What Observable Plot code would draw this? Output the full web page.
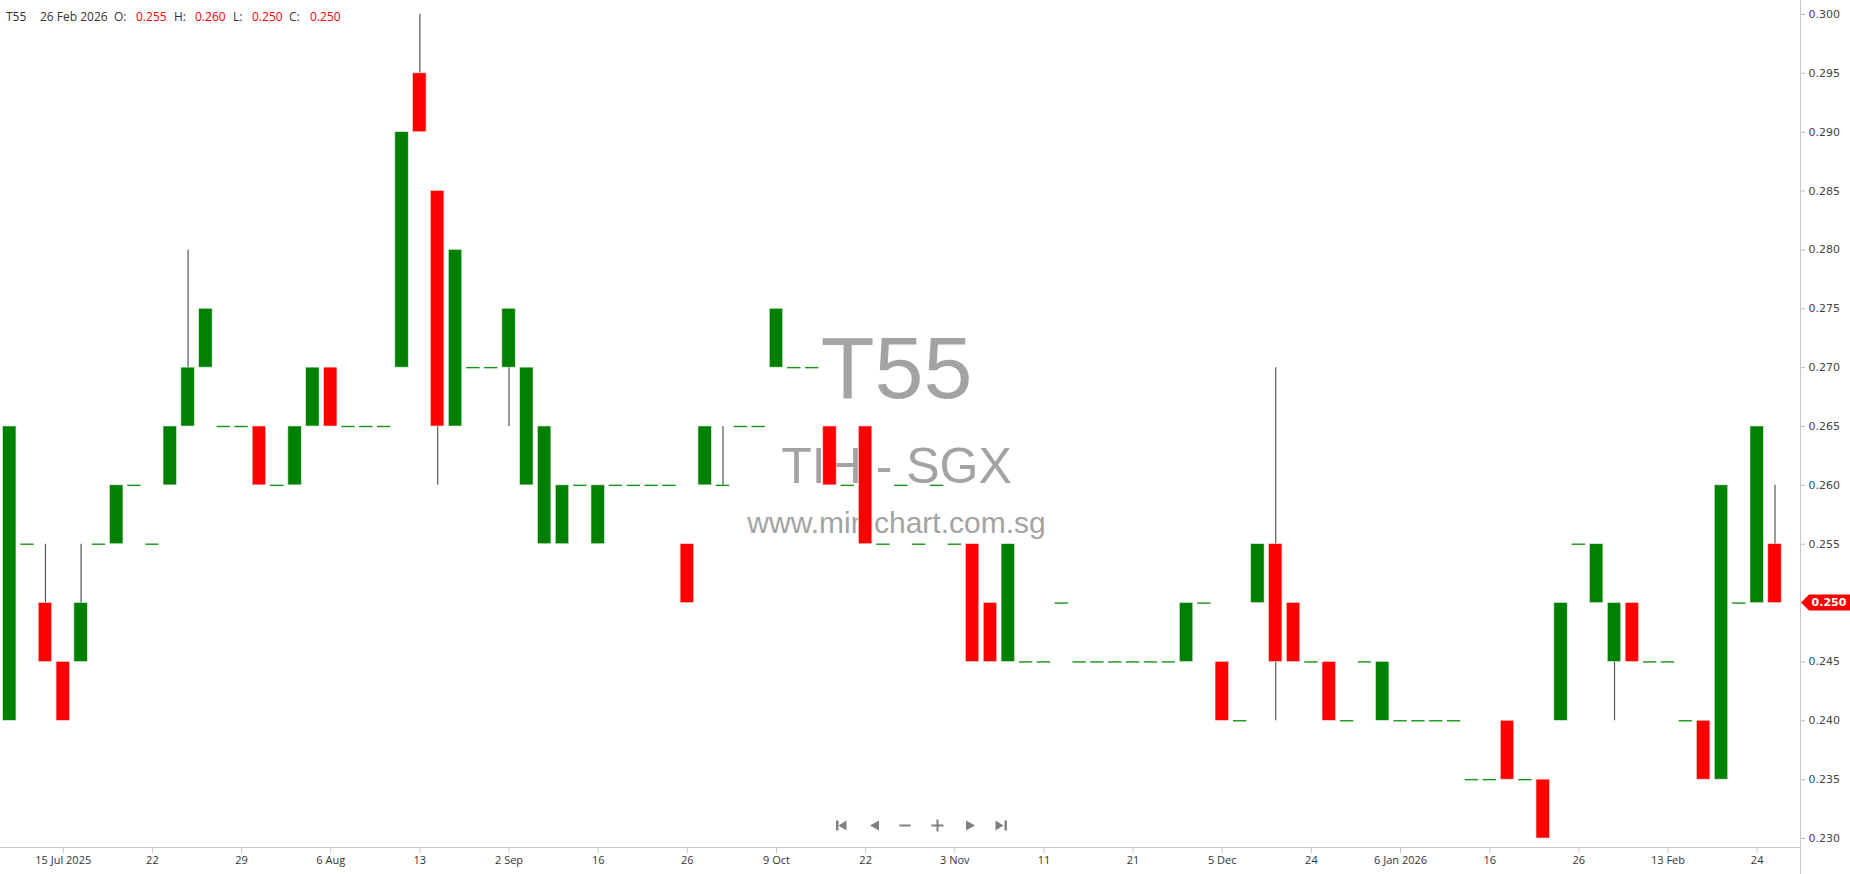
<!DOCTYPE html>
<html><head><meta charset="utf-8">
<script src="https://cdn.jsdelivr.net/npm/d3@7"></script>
<script src="https://cdn.jsdelivr.net/npm/@observablehq/plot@0.6"></script>
<style>
html,body{margin:0;padding:0;background:#fff;}
#wrap{position:relative;width:1850px;height:874px;overflow:hidden;}
#hdr{position:absolute;left:0;top:0;width:400px;height:30px;font-family:"Open Sans";font-size:12px;color:#333;}
#hdr span{position:absolute;top:9px;white-space:nowrap;line-height:16px;}
#hdr span.v{color:#ff0000;}
</style></head><body><div id="wrap"><div id="chart"></div><div id="hdr"></div></div>
<script>
// ---- data ----
const symbol = "T55";
const exchangeLine = "TIH - SGX";
const siteLine = "www.minichart.com.sg";
const lastDate = "26 Feb 2026";
const open  = [0.240,0.255,0.250,0.245,0.245,0.255,0.255,0.260,0.255,0.260,
               0.265,0.270,0.265,0.265,0.265,0.260,0.260,0.265,0.270,0.265,
               0.265,0.265,0.270,0.295,0.285,0.265,0.270,0.270,0.270,0.260,
               0.255,0.255,0.260,0.255,0.260,0.260,0.260,0.260,0.255,0.260,
               0.260,0.265,0.265,0.270,0.270,0.270,0.265,0.260,0.265,0.255,
               0.260,0.255,0.260,0.255,0.255,0.250,0.245,0.245,0.245,0.250,
               0.245,0.245,0.245,0.245,0.245,0.245,0.245,0.250,0.245,0.240,
               0.250,0.255,0.250,0.245,0.245,0.240,0.245,0.240,0.240,0.240,
               0.240,0.240,0.235,0.235,0.240,0.235,0.235,0.240,0.255,0.250,
               0.245,0.250,0.245,0.245,0.240,0.240,0.235,0.250,0.250,0.255];
const high  = [0.265,0.255,0.255,0.245,0.255,0.255,0.260,0.260,0.255,0.265,
               0.280,0.275,0.265,0.265,0.265,0.260,0.265,0.270,0.270,0.265,
               0.265,0.265,0.290,0.300,0.285,0.280,0.270,0.270,0.275,0.270,
               0.265,0.260,0.260,0.260,0.260,0.260,0.260,0.260,0.255,0.265,
               0.265,0.265,0.265,0.275,0.270,0.270,0.265,0.260,0.265,0.255,
               0.260,0.255,0.260,0.255,0.255,0.250,0.255,0.245,0.245,0.250,
               0.245,0.245,0.245,0.245,0.245,0.245,0.250,0.250,0.245,0.240,
               0.255,0.270,0.250,0.245,0.245,0.240,0.245,0.245,0.240,0.240,
               0.240,0.240,0.235,0.235,0.240,0.235,0.235,0.250,0.255,0.255,
               0.250,0.250,0.245,0.245,0.240,0.240,0.260,0.250,0.265,0.260];
const low   = [0.240,0.255,0.245,0.240,0.245,0.255,0.255,0.260,0.255,0.260,
               0.265,0.270,0.265,0.265,0.260,0.260,0.260,0.265,0.265,0.265,
               0.265,0.265,0.270,0.290,0.260,0.265,0.270,0.270,0.265,0.260,
               0.255,0.255,0.260,0.255,0.260,0.260,0.260,0.260,0.250,0.260,
               0.260,0.265,0.265,0.270,0.270,0.270,0.260,0.260,0.255,0.255,
               0.260,0.255,0.260,0.255,0.245,0.245,0.245,0.245,0.245,0.250,
               0.245,0.245,0.245,0.245,0.245,0.245,0.245,0.250,0.240,0.240,
               0.250,0.240,0.245,0.245,0.240,0.240,0.245,0.240,0.240,0.240,
               0.240,0.240,0.235,0.235,0.235,0.235,0.230,0.240,0.255,0.250,
               0.240,0.245,0.245,0.245,0.240,0.235,0.235,0.250,0.250,0.250];
const close = [0.265,0.255,0.245,0.240,0.250,0.255,0.260,0.260,0.255,0.265,
               0.270,0.275,0.265,0.265,0.260,0.260,0.265,0.270,0.265,0.265,
               0.265,0.265,0.290,0.290,0.265,0.280,0.270,0.270,0.275,0.270,
               0.265,0.260,0.260,0.260,0.260,0.260,0.260,0.260,0.250,0.265,
               0.260,0.265,0.265,0.275,0.270,0.270,0.260,0.260,0.255,0.255,
               0.260,0.255,0.260,0.255,0.245,0.245,0.255,0.245,0.245,0.250,
               0.245,0.245,0.245,0.245,0.245,0.245,0.250,0.250,0.240,0.240,
               0.255,0.245,0.245,0.245,0.240,0.240,0.245,0.245,0.240,0.240,
               0.240,0.240,0.235,0.235,0.235,0.235,0.230,0.250,0.255,0.255,
               0.250,0.245,0.245,0.245,0.240,0.235,0.260,0.250,0.265,0.250];
const xTickIdx    = [3,8,13,18,23,28,33,38,43,48,53,58,63,68,73,78,83,88,93,98];
const xTickLabels = ["15 Jul 2025","22","29","6 Aug","13","2 Sep","16","26","9 Oct","22",
                     "3 Nov","11","21","5 Dec","24","6 Jan 2026","16","26","13 Feb","24"];
const yTicks = [0.230,0.235,0.240,0.245,0.250,0.255,0.260,0.265,0.270,0.275,0.280,0.285,0.290,0.295,0.300];

// ---- build table ----
const data = open.map((o, i) => ({i, open: o, high: high[i], low: low[i], close: close[i]}));
const up = data.filter(d => d.close > d.open);
const down = data.filter(d => d.close < d.open);
const flat = data.filter(d => d.close === d.open);
const last = data[data.length - 1];
const HW = 0.375;
const GREEN = "#008000", RED = "#ff0000";
const wmFill = "#a3a3a3";
const fmt = d3.format(".3f");

const chart = Plot.plot({
  width: 1850, height: 874,
  marginLeft: 0, marginRight: 50, marginTop: 0, marginBottom: 27,
  style: {fontFamily: "Open Sans", fontSize: "11px", color: "#333", background: "#fff", overflow: "visible"},
  x: {type: "linear", domain: [-0.52, 100.43]},
  y: {domain: [0.230, 0.300], range: [838, 14]},
  marks: [
    Plot.text([symbol], {frameAnchor: "top", text: d => d, dx: -4, dy: 397, lineAnchor: "bottom",
      fontSize: 88, fill: wmFill, fontFamily: "Liberation Sans"}),
    Plot.text([exchangeLine], {frameAnchor: "top", text: d => d, dx: -4, dy: 482, lineAnchor: "bottom",
      fontSize: 50, fill: wmFill, fontFamily: "Liberation Sans"}),
    Plot.text([siteLine], {frameAnchor: "top", text: d => d, dx: -4, dy: 532, lineAnchor: "bottom",
      fontSize: 30, fill: wmFill, fontFamily: "Liberation Sans"}),
    Plot.ruleX(data, {x: "i", y1: "low", y2: "high", stroke: "#555", strokeWidth: 1.2}),
    Plot.rect(up, {x1: d => d.i - HW, x2: d => d.i + HW, y1: "open", y2: "close", fill: GREEN, stroke: "#d8ecd8", strokeWidth: 0.6}),
    Plot.rect(down, {x1: d => d.i - HW, x2: d => d.i + HW, y1: "open", y2: "close", fill: RED, stroke: "#ffd0d0", strokeWidth: 0.6}),
    Plot.ruleY(flat, {y: "close", x1: d => d.i - HW, x2: d => d.i + HW, stroke: "#159515", strokeWidth: 1.4}),
    Plot.axisX({ticks: xTickIdx, tickFormat: d => xTickLabels[xTickIdx.indexOf(d)], tickSize: 6, tickPadding: 3,
      stroke: "#c8c8c8", fill: "#333", fontSize: 11, label: null}),
    // the last-price tag covers the tick label at the last close, as in the reference
    Plot.axisY({anchor: "right", ticks: yTicks, tickFormat: d => Math.abs(d - last.close) < 1e-9 ? "" : fmt(d),
      tickSize: 4, tickPadding: 4, stroke: "#bbb", fill: "#444", fontSize: 11, fontFamily: "DejaVu Sans", label: null})
  ]
});
document.getElementById("chart").appendChild(chart);

// ---- frame lines, last-price tag, navigation icons ----
const svg = d3.select(chart);
const xs = chart.scale("x"), ys = chart.scale("y");
const right = xs.range[1], bottom = 847;
svg.append("line").attr("x1", 0).attr("x2", right).attr("y1", bottom + 0.5).attr("y2", bottom + 0.5).attr("stroke", "#c8c8c8");
svg.append("line").attr("x1", right + 0.5).attr("x2", right + 0.5).attr("y1", 0).attr("y2", 874).attr("stroke", "#c8c8c8");

const ty = ys.apply(last.close);
svg.append("path").attr("d", `M${right + 1},${ty} L${right + 9},${ty - 8} L1850,${ty - 8} L1850,${ty + 8} L${right + 9},${ty + 8} Z`).attr("fill", RED);
svg.append("text").attr("x", right + 29).attr("y", ty).attr("dy", "0.35em").attr("text-anchor", "middle")
  .attr("fill", "#fff").attr("font-weight", "bold").attr("font-size", 11).attr("font-family", "DejaVu Sans")
  .text(fmt(last.close));

const nav = svg.append("g").attr("fill", "#808080");
const cy = 825.5;
nav.append("rect").attr("x", 836).attr("y", cy - 5).attr("width", 2.5).attr("height", 10);
nav.append("path").attr("d", `M846.5,${cy - 5} L846.5,${cy + 5} L838.5,${cy} Z`);
nav.append("path").attr("d", `M879,${cy - 5} L879,${cy + 5} L870,${cy} Z`);
nav.append("rect").attr("x", 899.5).attr("y", cy - 1).attr("width", 11).attr("height", 2);
nav.append("rect").attr("x", 931.5).attr("y", cy - 1).attr("width", 12).attr("height", 2);
nav.append("rect").attr("x", 936.5).attr("y", cy - 6).attr("width", 2).attr("height", 12);
nav.append("path").attr("d", `M966,${cy - 5} L966,${cy + 5} L975,${cy} Z`);
nav.append("path").attr("d", `M995.5,${cy - 5} L995.5,${cy + 5} L1003.5,${cy} Z`);
nav.append("rect").attr("x", 1004.5).attr("y", cy - 5).attr("width", 2.5).attr("height", 10);

// ---- header ----
const hdr = document.getElementById("hdr");
const parts = [
  [symbol, 6, ""], [lastDate, 40, ""],
  ["O:", 114, ""], [fmt(last.open), 136, "v"],
  ["H:", 174, ""], [fmt(last.high), 195, "v"],
  ["L:", 233, ""], [fmt(last.low), 252, "v"],
  ["C:", 289, ""], [fmt(last.close), 310, "v"]
];
for (const [t, x, c] of parts) {
  const s = document.createElement("span");
  s.textContent = t; s.style.left = x + "px"; if (c) s.className = c;
  hdr.appendChild(s);
}
</script></body></html>
